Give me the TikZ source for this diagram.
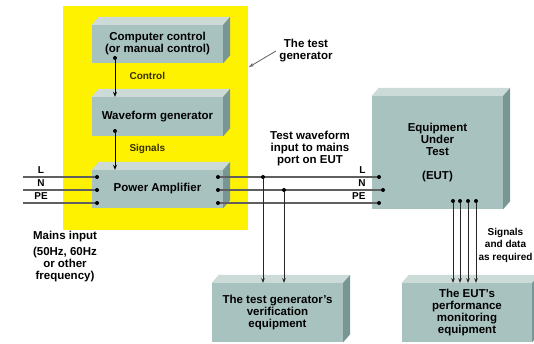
\documentclass[tikz,border=0pt]{standalone}
\usepackage{fontspec}
\setmainfont{Liberation Sans}
\usetikzlibrary{arrows.meta}

\definecolor{boxfront}{RGB}{168,194,192}
\definecolor{boxtop}{RGB}{204,218,216}
\definecolor{boxside}{RGB}{120,150,148}
\definecolor{wire}{RGB}{95,95,95}
\definecolor{labelolive}{RGB}{55,48,0}

\begin{document}
\begin{tikzpicture}[x=1pt,y=-1pt,
        box/.style={fill=boxfront,inner sep=0pt,align=center,font=\bfseries\fontsize{11.5}{12}\selectfont},
        txt/.style={align=center,font=\bfseries\fontsize{11.5}{12}\selectfont},
        small/.style={font=\bfseries\fontsize{10}{10}\selectfont},
        dot/.style={circle,fill=black,inner sep=0pt,minimum size=4pt},
        mains/.style={wire,line width=1.1pt},
        feed/.style={line width=0.9pt,-{Stealth[length=5pt,width=4pt]}},
        probe/.style={line width=0.7pt,black!85,-{Stealth[length=4.5pt,width=3.5pt]}}
    ]
        \useasboundingbox (0,0) rectangle (534,344);

        % The test generator
        \fill[yellow] (63,6) rectangle (248,230);

        % Define the boxes (front faces)
        \node[box,minimum width=131pt,minimum height=38pt] (cc) at (157.5,44) {Computer control\\(or manual control)};
        \node[box,minimum width=131pt,minimum height=39pt] (wg) at (157.5,116.5) {Waveform generator};
        \node[box,minimum width=131pt,minimum height=38pt] (pa) at (157.5,189) {Power Amplifier};
        \node[box,minimum width=131pt,minimum height=113pt] (eut) at (437.5,152.5) {Equipment\\Under\\Test\\[12pt](EUT)};
        \node[box,minimum width=131pt,minimum height=59pt] (ver) at (277.5,312.5) {The test generator's\\verification\\equipment};
        \node[box,minimum width=130pt,minimum height=59pt] (mon) at (467,312.5) {The EUT's\\performance\\monitoring\\equipment};

        % Top and side faces
        \foreach \n in {cc,wg,pa,eut,ver,mon} {
            \fill[boxtop] (\n.north west) -- ++(7,-8) -- ([shift={(7,-8)}]\n.north east) -- (\n.north east) -- cycle;
            \fill[boxside] (\n.north east) -- ++(7,-8) -- ([shift={(7,-8)}]\n.south east) -- (\n.south east) -- cycle;
        }

        % Control and signals
        \node[dot] (c1) at (115,58) {};
        \node[dot] (s1) at (115,131) {};
        \draw[feed] (c1) -- (c1 |- wg.north);
        \draw[feed] (s1) -- (s1 |- pa.north);
        \node[small,labelolive,anchor=west] (ctl) at (126,76) {Control};
        \node[small,labelolive,anchor=west] (sig) at (126,149) {Signals};

        % Mains input
        \coordinate (inL) at (23,177);
        \coordinate (inN) at (23,190);
        \coordinate (inPE) at (23,203);
        \node[dot] (paL) at (97,177) {};
        \node[dot] (paN) at (97,190) {};
        \node[dot] (paPE) at (97,203) {};
        \draw[mains] (inL) -- (paL);
        \draw[mains] (inN) -- (paN);
        \draw[mains] (inPE) -- (paPE);
        \node[small] (lL) at (41,170) {L};
        \node[small] (lN) at (41,183) {N};
        \node[small] (lPE) at (41,196) {PE};

        % Test waveform to the EUT
        \node[dot] (oL) at (218,177) {};
        \node[dot] (oN) at (218,190) {};
        \node[dot] (oPE) at (218,203) {};
        \node[dot] (eL) at (379,177) {};
        \node[dot] (eN) at (383,190) {};
        \node[dot] (ePE) at (379,203) {};
        \draw[mains] (oL) -- (eL);
        \draw[mains] (oN) -- (eN);
        \draw[mains] (oPE) -- (ePE);
        \node[small,anchor=east] (rL) at (369,170) {L};
        \node[small,anchor=east] (rN) at (369,183) {N};
        \node[small,anchor=east] (rPE) at (369,196) {PE};

        % Verification taps
        \node[dot] (jL) at (263,177) {};
        \node[dot] (jN) at (284,190) {};
        \draw[probe] (jL) -- (jL |- ver.north);
        \draw[probe] (jN) -- (jN |- ver.north);

        % Monitoring
        \foreach \x [count=\i] in {453,460,468,476} {
            \node[dot] (m\i) at (\x,201) {};
            \draw[probe] (m\i) -- (m\i |- mon.north);
        }

        % Texts
        \node[txt] (tg) at (306,51) {The test\\generator};
        \coordinate (tgtip) at (249,67);
        \draw[wire,line width=0.8pt,-{Stealth[length=5pt,width=3.5pt]}] (tg.west) -- (tgtip);
        \node[txt] (tw) at (310,149) {Test waveform\\input to mains\\port on EUT};
        \node[txt] (mi) at (65,237) {Mains input};
        \node[txt] (fr) at (65,265) {(50Hz, 60Hz\\or other\\frequency)};
        \node[txt,font=\bfseries\fontsize{10}{12.5}\selectfont] (sd) at (505.5,245) {Signals\\and data\\as required};
    \end{tikzpicture}
\end{document}
